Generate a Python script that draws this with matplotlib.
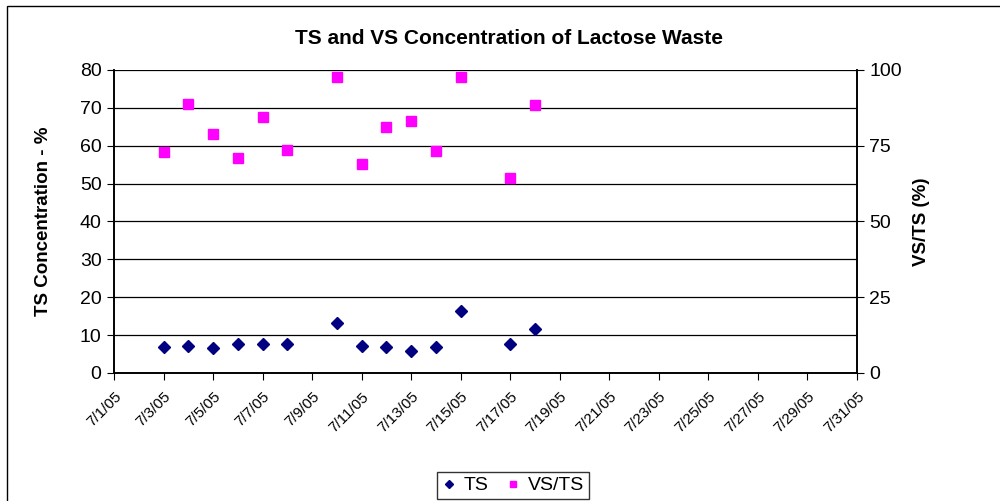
import datetime as dt
import matplotlib
matplotlib.use("Agg")
import matplotlib.pyplot as plt
import matplotlib.dates as mdates
from matplotlib.patches import Rectangle

plt.rcParams["font.family"] = ["Liberation Sans", "DejaVu Sans"]

# 数据
days = [3, 4, 5, 6, 7, 8, 10, 11, 12, 13, 14, 15, 17, 18]
ts = [6.9, 7.2, 6.5, 7.6, 7.6, 7.6, 13.1, 7.2, 6.9, 5.8, 6.9, 16.3, 7.6, 11.5]
vs_ts = [72.9, 88.9, 79.0, 71.1, 84.5, 73.7, 97.7, 68.9, 81.1, 83.3, 73.3, 97.7, 64.5, 88.5]
left_ticks = list(range(0, 81, 10))
right_ticks = [0, 25, 50, 75, 100]

dates = [dt.datetime(2005, 7, d) for d in days]

fig = plt.figure(figsize=(10, 5.01), dpi=100)
ax = fig.add_axes([0.114, 0.2555, 0.743, 0.6048])
ax2 = ax.twinx()

# 网格线
for v in left_ticks[1:]:
    ax.axhline(v, color="black", lw=0.9, zorder=1)

ax.plot(dates, ts, linestyle="none", marker="D", color="#000080",
        markersize=6, label="TS", zorder=3)
ax2.plot(dates, vs_ts, linestyle="none", marker="s", color="#FF00FF",
         markersize=6.5, label="VS/TS", zorder=3)

ax.set_xlim(dt.datetime(2005, 7, 1), dt.datetime(2005, 7, 31))
ax.set_ylim(0, 80)
ax2.set_ylim(0, 100)
ax.set_yticks(left_ticks)
ax2.set_yticks(right_ticks)

ax.xaxis.set_major_locator(mdates.DayLocator(bymonthday=range(1, 32, 2)))
ax.xaxis.set_major_formatter(
    plt.FuncFormatter(lambda x, pos: "{d.month}/{d.day}/{y}".format(
        d=mdates.num2date(x), y=mdates.num2date(x).strftime("%y"))))
for lab in ax.get_xticklabels():
    lab.set_rotation(45)
    lab.set_ha("right")
    lab.set_rotation_mode("anchor")

ax.tick_params(axis="x", labelsize=11, length=5, direction="out", pad=7)
ax.tick_params(axis="y", labelsize=14, length=5, direction="out", pad=4)
ax2.tick_params(axis="y", labelsize=14, length=5, direction="out", pad=4)

for a in (ax, ax2):
    for s in a.spines.values():
        s.set_linewidth(1.2)
    a.spines["top"].set_visible(False)

ax.set_ylabel("TS Concentration - %", fontsize=13.5, fontweight="bold", labelpad=20)
ax2.set_ylabel("VS/TS (%)", fontsize=13.5, fontweight="bold", labelpad=8, rotation=90)
fig.text(0.509, 1 - 38 / 501, "TS and VS Concentration of Lactose Waste",
         ha="center", va="center", fontsize=15, fontweight="bold")

h1, l1 = ax.get_legend_handles_labels()
h2, l2 = ax2.get_legend_handles_labels()
leg = fig.legend(h1 + h2, l1 + l2, loc="upper center",
                 bbox_to_anchor=(0.513, 1 - 472 / 501), ncol=2, fontsize=14,
                 frameon=True, fancybox=False, edgecolor="black",
                 handlelength=0.7, handletextpad=0.4, columnspacing=0.9,
                 borderpad=0.25, borderaxespad=0.0, markerscale=0.75)
leg.get_frame().set_linewidth(1.0)

# 外框
fig.patches.append(Rectangle((0.007, -0.1), 1.1, 1.1 - 6 / 501,
                             transform=fig.transFigure, fill=False,
                             edgecolor="black", lw=1.0))

fig.savefig("out.png", dpi=100)
